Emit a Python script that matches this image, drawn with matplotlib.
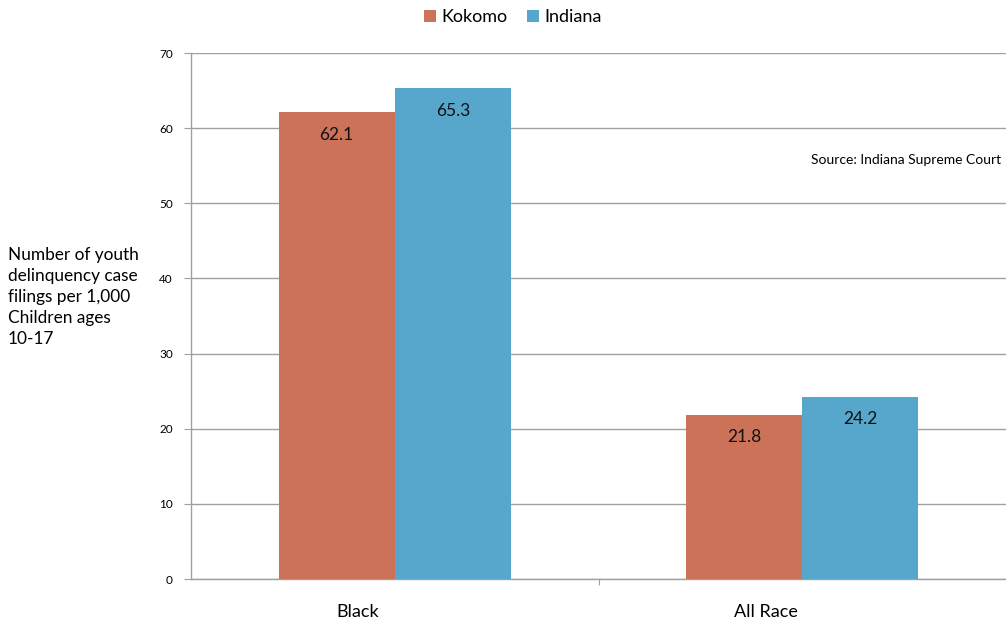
import matplotlib
matplotlib.use("Agg")
import matplotlib.pyplot as plt
import numpy as np

categories = ["Black", "All Race"]
kokomo = [62.1, 21.8]
indiana = [65.3, 24.2]
series_names = ["Kokomo", "Indiana"]
yticks = [0, 10, 20, 30, 40, 50, 60, 70]

plt.rcParams['font.family'] = ['Lato', 'DejaVu Sans']

fig = plt.figure(figsize=(10.06, 6.26), dpi=100)
ax = fig.add_axes([191/1006, 1-579/626, 1-191/1006, (579-53)/626])

c_k = "#CB7259"
c_i = "#57A6CC"
x = np.arange(len(categories))
w = 0.285
b1 = ax.bar(x - w/2, kokomo, w, color=c_k, label=series_names[0], zorder=3)
b2 = ax.bar(x + w/2, indiana, w, color=c_i, label=series_names[1], zorder=3)

for bars, vals in ((b1, kokomo), (b2, indiana)):
    for r, v in zip(bars, vals):
        ax.annotate(f"{v}", (r.get_x() + r.get_width()/2, v), xytext=(0, -16),
                    textcoords="offset points", ha="center", va="center",
                    fontsize=12.5, color="#111111", zorder=4)

ax.set_xlim(-0.5, 1.5)
ax.set_ylim(0, 70)
ax.set_yticks(yticks)
ax.set_yticklabels([str(t) for t in yticks], fontsize=8.5)
ax.yaxis.grid(True, color="#a0a0a0", linewidth=1, zorder=0)
ax.set_xticks([0.5])
ax.set_xticklabels([""])
ax.tick_params(axis='x', length=4, color="#a0a0a0", direction="out")
ax.tick_params(axis='y', length=5, color="#a0a0a0", pad=8)
for s in ("top", "right"):
    ax.spines[s].set_visible(False)
for s in ("left", "bottom"):
    ax.spines[s].set_color("#a0a0a0")
    ax.spines[s].set_linewidth(1)

for xi, cat in zip(x, categories):
    ax.text(xi - 0.09, -0.062, cat, transform=ax.get_xaxis_transform(), ha="center", va="center", fontsize=13)

fig.text(8/1006, 1-297/626, "Number of youth\ndelinquency case\nfilings per 1,000\nChildren ages\n10-17",
         ha="left", va="center", fontsize=12.4, linespacing=1.38)
fig.text(1-5/1006, 1-160/626, "Source: Indiana Supreme Court", ha="right", va="center", fontsize=10)

fig.legend(handles=[b1, b2], labels=series_names, loc="center", bbox_to_anchor=(0.51, 1-17/626),
           ncol=2, frameon=False, fontsize=13, handlelength=0.65, handleheight=0.65,
           handletextpad=0.3, columnspacing=1.1)

fig.savefig("out.png", dpi=100)
